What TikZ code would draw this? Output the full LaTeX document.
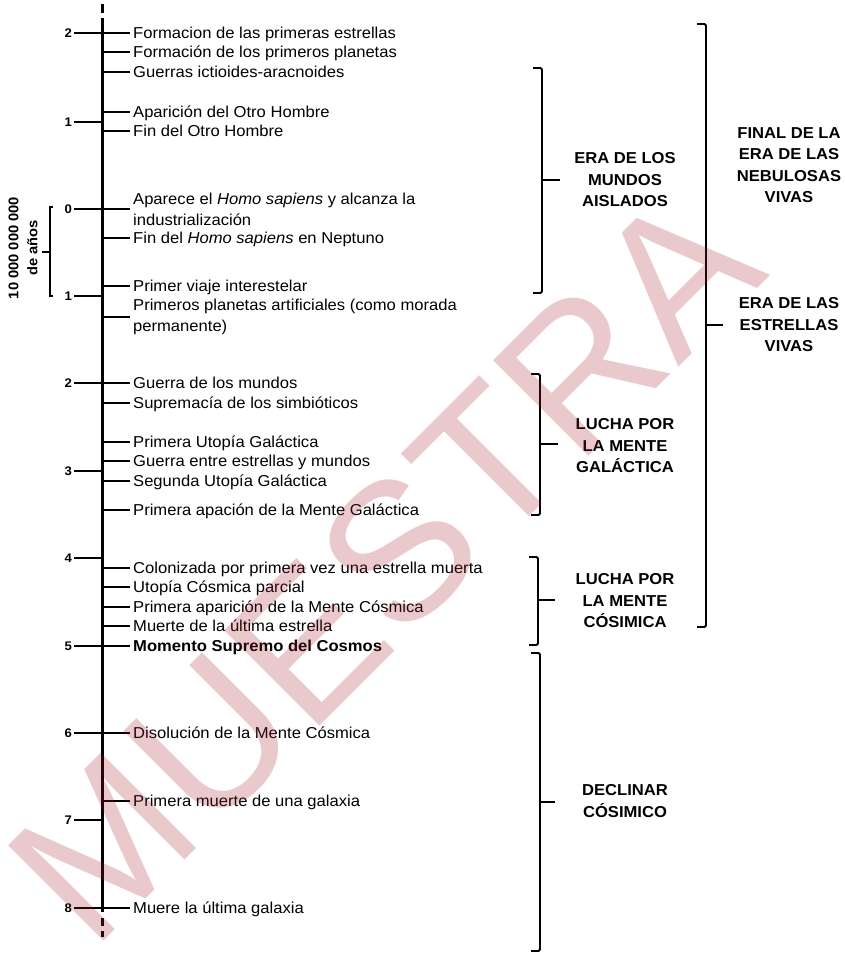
\documentclass[tikz,border=0pt]{standalone}
\usepackage{fontspec}
\setmainfont{Liberation Sans}[FakeStretch=1.05]
\newfontfamily\wmfont{Liberation Sans}
\definecolor{wmcol}{RGB}{170,30,50}
\begin{document}
\begin{tikzpicture}[x=1pt,y=-1pt,
  axisline/.style={line width=3pt},
  tickline/.style={line width=2.6pt},
  brk/.style={line width=1.9pt, rounded corners=1.5pt},
  brktick/.style={line width=1.9pt},
  sbrk/.style={line width=1.3pt},
  evbase/.style={inner sep=0pt, anchor=west, font=\fontsize{15.8}{21}\selectfont},
  ev/.style={evbase, text height=15.3pt, text depth=3.95pt},
  ev2/.style={evbase, align=left},
  num/.style={inner sep=0pt, anchor=east, font=\fontsize{12.5}{14}\selectfont\bfseries},
  era/.style={inner sep=0pt, align=center, font=\fontsize{15.8}{21.5}\selectfont\bfseries}]
\fill[white] (0,0) rectangle (845,954);
\useasboundingbox (0,0) rectangle (845,954);

% axis
\coordinate (atop) at (102,18);
\coordinate (abot) at (102,912);
\draw[axisline] (atop) -- (abot);
\coordinate (d1a) at (102,4);   \coordinate (d1b) at (102,13);
\coordinate (d2a) at (102,918); \coordinate (d2b) at (102,926);
\coordinate (d3a) at (102,931); \coordinate (d3b) at (102,937);
\draw[axisline] (d1a) -- (d1b);
\draw[axisline] (d2a) -- (d2b);
\draw[axisline] (d3a) -- (d3b);

% left scale numbers
\node[num] (n1)  at (72,33)  {2};
\node[num] (n2)  at (72,122) {1};
\node[num] (n3)  at (72,209) {0};
\node[num] (n4)  at (72,296) {1};
\node[num] (n5)  at (72,383) {2};
\node[num] (n6)  at (72,471) {3};
\node[num] (n7)  at (72,558) {4};
\node[num] (n8)  at (72,646) {5};
\node[num] (n9)  at (72,733) {6};
\node[num] (n10) at (72,820) {7};
\node[num] (n11) at (72,908) {8};
\foreach \n in {n1,n2,n3,n4,n5,n6,n7,n8,n9,n10,n11}
  \draw[tickline] ([xshift=2pt]\n.east) -- (\n.east -| atop);

% events
\node[ev]  (e1)  at (133,33)  {Formacion de las primeras estrellas};
\node[ev]  (e2)  at (133,52)  {Formación de los primeros planetas};
\node[ev]  (e3)  at (133,72)  {Guerras ictioides-aracnoides};
\node[ev]  (e4)  at (133,112) {Aparición del Otro Hombre};
\node[ev]  (e5)  at (133,131) {Fin del Otro Hombre};
\node[ev2] (e6)  at (133,209) {Aparece el \textit{Homo sapiens}\ y alcanza la\\industrialización};
\node[ev]  (e7)  at (133,238) {Fin del \textit{Homo sapiens}\ en Neptuno};
\node[ev]  (e8)  at (133,286) {Primer viaje interestelar};
\node[ev2] (e9)  at (133,317) {Primeros planetas artificiales (como morada\\permanente)};
\node[ev]  (e10) at (133,383) {Guerra de los mundos};
\node[ev]  (e11) at (133,403) {Supremacía de los simbióticos};
\node[ev]  (e12) at (133,442) {Primera Utopía Galáctica};
\node[ev]  (e13) at (133,461) {Guerra entre estrellas y mundos};
\node[ev]  (e14) at (133,481) {Segunda Utopía Galáctica};
\node[ev]  (e15) at (133,510) {Primera apación de la Mente Galáctica};
\node[ev]  (e16) at (133,568) {Colonizada por primera vez una estrella muerta};
\node[ev]  (e17) at (133,587) {Utopía Cósmica parcial};
\node[ev]  (e18) at (133,607) {Primera aparición de la Mente Cósmica};
\node[ev]  (e19) at (133,626) {Muerte de la última estrella};
\node[ev]  (e20) at (133,646) {\bfseries Momento Supremo del Cosmos};
\node[ev]  (e21) at (133,733) {Disolución de la Mente Cósmica};
\node[ev]  (e22) at (133,801) {Primera muerte de una galaxia};
\node[ev]  (e23) at (133,908) {Muere la última galaxia};
\foreach \e in {e1,e2,e3,e4,e5,e6,e7,e8,e9,e10,e11,e12,e13,e14,e15,e16,e17,e18,e19,e20,e21,e22,e23}
  \draw[tickline] (\e.west -| atop) -- ([xshift=-3pt]\e.west);

% left bracket "10 000 000 000 de años"
\coordinate (lb1) at (53,207);
\coordinate (lb2) at (50,207);
\coordinate (lb3) at (50,296);
\coordinate (lb4) at (53,296);
\coordinate (lbm) at (50,252);
\coordinate (lbk) at (42,252);
\draw[sbrk] (lb1) -- (lb2) -- (lb3) -- (lb4);
\draw[sbrk] (lbm) -- (lbk);
\node[rotate=90, align=center, inner sep=0pt, font=\fontsize{14}{19}\selectfont\bfseries] (years) at (23,248) {10 000 000 000\\de años};

% right brackets
% 1: mundos aislados
\coordinate (b1t) at (542,68);  \coordinate (b1b) at (542,293);
\coordinate (b1m) at (542,180); \coordinate (b1k) at (560,180);
\draw[brk] ([xshift=-9pt]b1t) -- (b1t) -- (b1b) -- ([xshift=-9pt]b1b);
\draw[brktick] (b1m) -- (b1k);
\node[era] (l1) at (625,180) {ERA DE LOS\\MUNDOS\\AISLADOS};

% 2: big bracket
\coordinate (b2t) at (706,24);  \coordinate (b2b) at (706,627);
\coordinate (b2m) at (706,325); \coordinate (b2k) at (723,325);
\draw[brk] ([xshift=-9pt]b2t) -- (b2t) -- (b2b) -- ([xshift=-9pt]b2b);
\draw[brktick] (b2m) -- (b2k);
\node[era] (l2) at (789,325) {ERA DE LAS\\ESTRELLAS\\VIVAS};
\node[era] (l2b) at (789,165) {FINAL DE LA\\ERA DE LAS\\NEBULOSAS\\VIVAS};

% 3: mente galactica
\coordinate (b3t) at (540,374); \coordinate (b3b) at (540,515);
\coordinate (b3m) at (540,444); \coordinate (b3k) at (558,444);
\draw[brk] ([xshift=-9pt]b3t) -- (b3t) -- (b3b) -- ([xshift=-9pt]b3b);
\draw[brktick] (b3m) -- (b3k);
\node[era] (l3) at (625,446) {LUCHA POR\\LA MENTE\\GALÁCTICA};

% 4: mente cosmica
\coordinate (b4t) at (538,557); \coordinate (b4b) at (538,645);
\coordinate (b4m) at (538,600); \coordinate (b4k) at (555,600);
\draw[brk] ([xshift=-9pt]b4t) -- (b4t) -- (b4b) -- ([xshift=-9pt]b4b);
\draw[brktick] (b4m) -- (b4k);
\node[era] (l4) at (625,601) {LUCHA POR\\LA MENTE\\CÓSIMICA};

% 5: declinar
\coordinate (b5t) at (540,653); \coordinate (b5b) at (540,951);
\coordinate (b5m) at (540,802); \coordinate (b5k) at (555,802);
\draw[brk] ([xshift=-9pt]b5t) -- (b5t) -- (b5b) -- ([xshift=-9pt]b5b);
\draw[brktick] (b5m) -- (b5k);
\node[era] (l5) at (625,801) {DECLINAR\\CÓSIMICO};

% watermark
\node[rotate=45, inner sep=0pt, text=wmcol, text opacity=0.24,
      font=\wmfont\fontsize{196}{196}\selectfont] (wm) at (384,566) {MUESTRA};
\end{tikzpicture}
\end{document}
